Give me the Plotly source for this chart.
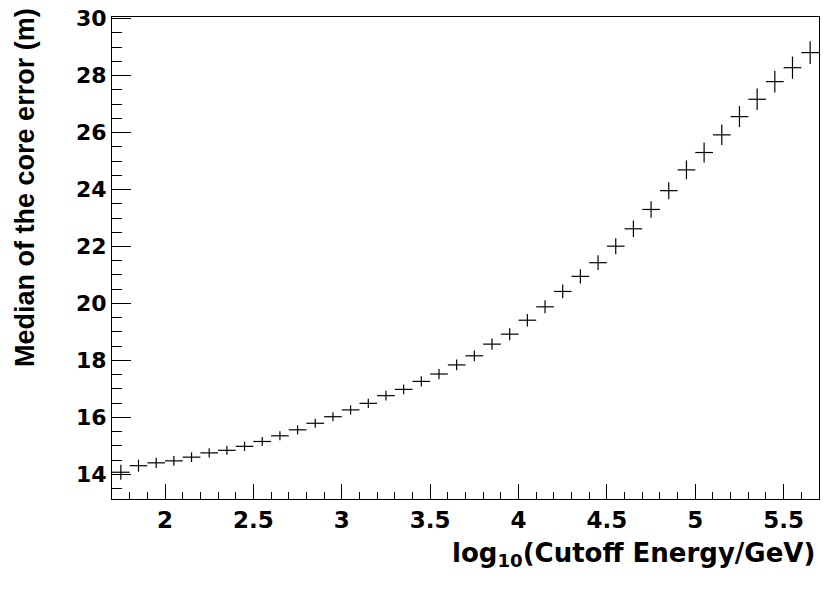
import plotly.graph_objects as go

# Bin centres: log10(Cutoff Energy/GeV)
log_energy = [1.75, 1.85, 1.95, 2.05, 2.15, 2.25, 2.35, 2.45, 2.55, 2.65,
              2.75, 2.85, 2.95, 3.05, 3.15, 3.25, 3.35, 3.45, 3.55, 3.65,
              3.75, 3.85, 3.95, 4.05, 4.15, 4.25, 4.35, 4.45, 4.55, 4.65,
              4.75, 4.85, 4.95, 5.05, 5.15, 5.25, 5.35, 5.45, 5.55, 5.65]
# Median of the core error (m)
median_err = [14.07, 14.30, 14.40, 14.47, 14.60, 14.75, 14.84, 14.98, 15.15, 15.35,
              15.56, 15.79, 16.02, 16.26, 16.49, 16.76, 16.98, 17.26, 17.52, 17.84,
              18.16, 18.57, 18.92, 19.41, 19.88, 20.42, 20.95, 21.43, 22.01, 22.62,
              23.30, 23.96, 24.69, 25.30, 25.92, 26.56, 27.17, 27.79, 28.28, 28.81]
# Vertical error (m)
y_unc = [0.26, 0.21, 0.18, 0.17, 0.17, 0.16, 0.16, 0.16, 0.16, 0.16,
         0.16, 0.16, 0.16, 0.16, 0.16, 0.17, 0.17, 0.18, 0.18, 0.19,
         0.19, 0.20, 0.21, 0.22, 0.23, 0.24, 0.25, 0.26, 0.28, 0.29,
         0.29, 0.30, 0.33, 0.35, 0.36, 0.37, 0.38, 0.38, 0.39, 0.40]
# Half bin width
x_halfwidth = [0.05] * len(log_energy)

fig = go.Figure()
fig.add_trace(go.Scatter(
    x=log_energy, y=median_err, mode="markers",
    marker=dict(size=1, color="rgba(0,0,0,0)"),
    error_x=dict(type="data", array=x_halfwidth, symmetric=True,
                 width=0, thickness=1.2, color="black"),
    error_y=dict(type="data", array=y_unc, symmetric=True,
                 width=0, thickness=1.2, color="black"),
    showlegend=False, hoverinfo="x+y", cliponaxis=False,
))

fig.update_layout(
    width=823, height=595,
    margin=dict(l=112, r=4, t=17, b=96),
    paper_bgcolor="white", plot_bgcolor="white",
    xaxis=dict(
        range=[1.7, 5.7], showgrid=False, zeroline=False, automargin=False,
        showline=True, linecolor="black", linewidth=1, mirror=True,
        ticks="inside", ticklen=15, tickwidth=1, tickcolor="black",
        tick0=2, dtick=0.5,
        minor=dict(ticks="inside", ticklen=7, tickwidth=1, tickcolor="black",
                   dtick=0.1, tick0=1.7, showgrid=False),
        tickfont=dict(family="DejaVu Sans", size=23, color="black", weight="bold"),
        tickangle=0, ticklabeloverflow="allow",
    ),
    yaxis=dict(
        range=[13.13, 30.06], showgrid=False, zeroline=False, automargin=False,
        showline=True, linecolor="black", linewidth=1, mirror=True,
        ticks="inside", ticklen=19, tickwidth=1, tickcolor="black",
        tick0=14, dtick=2,
        minor=dict(ticks="inside", ticklen=10, tickwidth=1, tickcolor="black",
                   dtick=0.5, tick0=13.5, showgrid=False),
        tickfont=dict(family="DejaVu Sans", size=22, color="black", weight="bold"),
        ticklabeloverflow="allow",
    ),
    annotations=[
        dict(text="log<sub>10</sub>(Cutoff Energy/GeV)", xref="paper", yref="paper",
             x=0.997, y=-0.115, xanchor="right", yanchor="middle", showarrow=False,
             font=dict(family="DejaVu Sans", size=26, color="black", weight="bold")),
        dict(text="Median of the core error (m)", xref="paper", yref="paper",
             x=-0.123, y=0.6455, xanchor="center", yanchor="middle", showarrow=False,
             textangle=-90,
             font=dict(family="Liberation Sans", size=27, color="black", weight="bold")),
    ],
)

fig.write_html("out.html", config={"displayModeBar": False},
               post_script="document.body.style.margin='0';")
